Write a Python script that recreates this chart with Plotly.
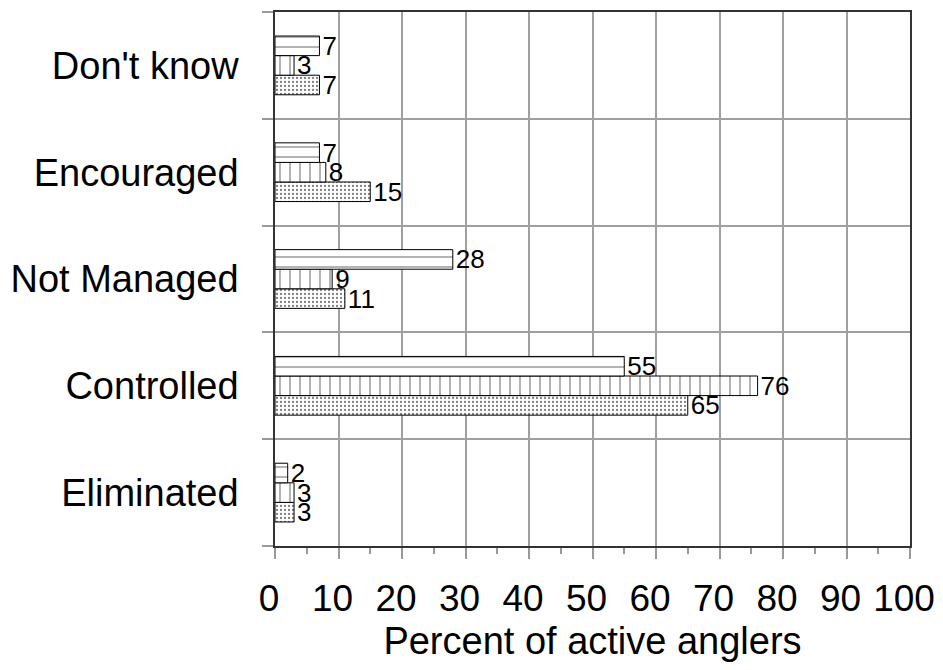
import plotly.graph_objects as go

categories = ["Eliminated", "Controlled", "Not Managed", "Encouraged", "Don't know"]
series_hlines = [2, 55, 28, 7, 7]
series_vlines = [3, 76, 9, 8, 3]
series_dots = [3, 65, 11, 15, 7]
x_ticks = [0, 10, 20, 30, 40, 50, 60, 70, 80, 90, 100]

FONT = "Arial, Liberation Sans, sans-serif"

fig = go.Figure()

def add(vals, shape, size, solidity):
    fig.add_trace(go.Bar(
        y=categories, x=vals, orientation="h",
        marker=dict(color="white", line=dict(color="black", width=1),
                    pattern=dict(shape=shape, size=size, solidity=solidity,
                                 fgcolor="black", bgcolor="white")),
        text=[str(v) for v in vals], textposition="outside",
        textfont=dict(family=FONT, size=26, color="black"),
        constraintext="none", cliponaxis=False, showlegend=False,
    ))

# first trace sits lowest in each group
add(series_dots, ".", 4, 0.25)
add(series_vlines, "|", 10, 0.12)
add(series_hlines, "-", 10, 0.12)

fig.update_layout(
    width=933, height=654,
    margin=dict(l=266, r=31, t=2, b=115),
    paper_bgcolor="white", plot_bgcolor="white",
    barmode="group", bargap=0.45, bargroupgap=0,
    font=dict(family=FONT, color="black"),
    xaxis=dict(
        range=[0, 100], tickvals=x_ticks, ticktext=[str(t) for t in x_ticks],
        showgrid=True, gridcolor="#a0a0a0", gridwidth=1.5,
        showline=True, linecolor="#333333", linewidth=1.5, mirror=True,
        ticks="outside", ticklen=11, tickcolor="#999999", tickwidth=1.5,
        minor=dict(dtick=5, tick0=0, ticks="outside", ticklen=6,
                   tickcolor="#999999", tickwidth=1.5, showgrid=False),
        zeroline=False,
        tickfont=dict(family=FONT, size=37, color="black"),
        ticklabelstandoff=8, ticklabelshift=-6,
        title=dict(text="Percent of active anglers",
                   font=dict(family=FONT, size=38, color="black"), standoff=14),
    ),
    yaxis=dict(
        type="category", categoryorder="array", categoryarray=categories,
        tickson="boundaries", ticks="outside", ticklen=11,
        tickcolor="#999999", tickwidth=1.5,
        showgrid=True, gridcolor="#a0a0a0", gridwidth=1.5,
        showline=True, linecolor="#333333", linewidth=1.5, mirror=True,
        tickfont=dict(family=FONT, size=38, color="black"),
        ticklabelstandoff=27,
    ),
)

fig.write_html("out.html")
